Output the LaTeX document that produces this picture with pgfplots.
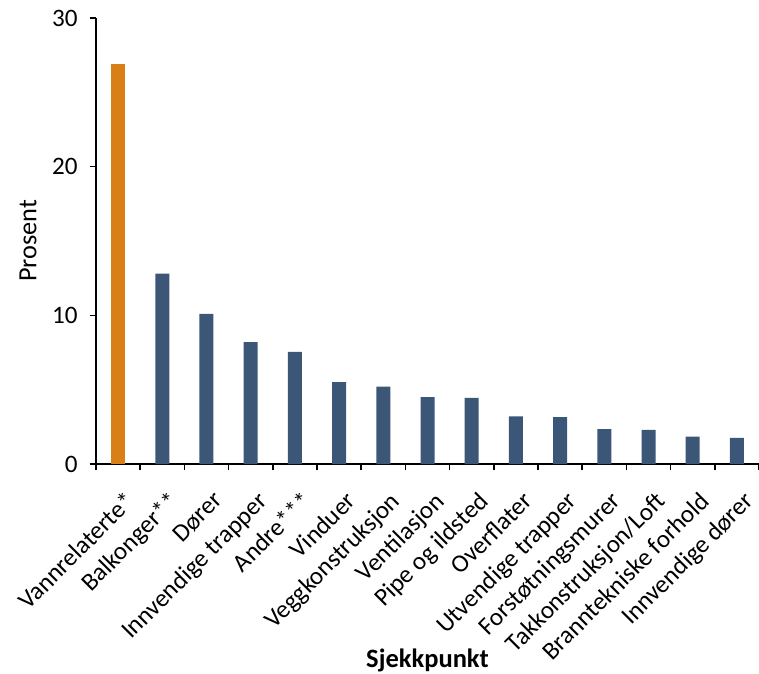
\documentclass[border=0pt]{standalone}
\usepackage{pgfplots}
\pgfplotsset{compat=1.18}
\usetikzlibrary{calc}
\usepackage{fontspec}
\setmainfont{Carlito}
\definecolor{orangebar}{RGB}{217,127,23}
\definecolor{bluebar}{RGB}{59,86,118}
\begin{document}
\begin{tikzpicture}[font=\fontsize{12.6}{15}\selectfont]
\begin{axis}[
  scale only axis,
  width=331.5bp, height=223bp,
  xmin=-0.5, xmax=14.5,
  ymin=0, ymax=30,
  axis x line=bottom, axis y line=left,
  axis line style={-, line width=0.8pt, black},
  ytick={0,10,20,30},
  ytick style={line width=0.8pt, black},
  tick align=outside,
  major tick length=3bp,
  xtick={0,...,14},
  xticklabels={Vannrelaterte*,Balkonger**,Dører,Innvendige trapper,Andre***,Vinduer,Veggkonstruksjon,Ventilasjon,Pipe og ildsted,Overflater,Utvendige trapper,Forstøtningsmurer,Takkonstruksjon/Loft,Branntekniske forhold,Innvendige dører},
  xtick style={draw=none},
  extra x ticks={-0.5,0.5,...,14.5},
  extra x tick labels={},
  extra x tick style={xtick style={draw=black, line width=0.8pt}, major tick length=3bp},
  xticklabel style={rotate=45, anchor=north east, inner sep=1bp, yshift=-8bp, xshift=-4bp},
  /pgf/number format/assume math mode=true,
  yticklabel style={inner sep=1bp, xshift=-5bp},
  ylabel={Prosent},
  ylabel style={at={(axis description cs:0,0.5)}, anchor=center, yshift=34bp, font=\fontsize{13.2}{15}\selectfont},
  xlabel={\textbf{Sjekkpunkt}},
  xlabel style={at={(axis description cs:0.5,0)}, anchor=center, yshift=-98bp, font=\fontsize{13.3}{15}\selectfont},
  ybar, bar width=7bp, bar shift=0pt,
  clip=false,
]
\addplot[fill=orangebar, draw=none] coordinates {(0,26.9)};
\addplot[fill=bluebar, draw=none] coordinates {
(1,12.8) (2,10.1) (3,8.2) (4,7.55) (5,5.5) (6,5.2) (7,4.5) (8,4.45) (9,3.2) (10,3.15) (11,2.35) (12,2.3) (13,1.85) (14,1.75)};
\coordinate (o) at (rel axis cs:0,0);
\coordinate (t) at (rel axis cs:1,1);
\end{axis}
\pgfresetboundingbox
\path (o) ++(-48bp,-105bp) rectangle ($(t)+(0bp,9bp)$);
\end{tikzpicture}
\end{document}
